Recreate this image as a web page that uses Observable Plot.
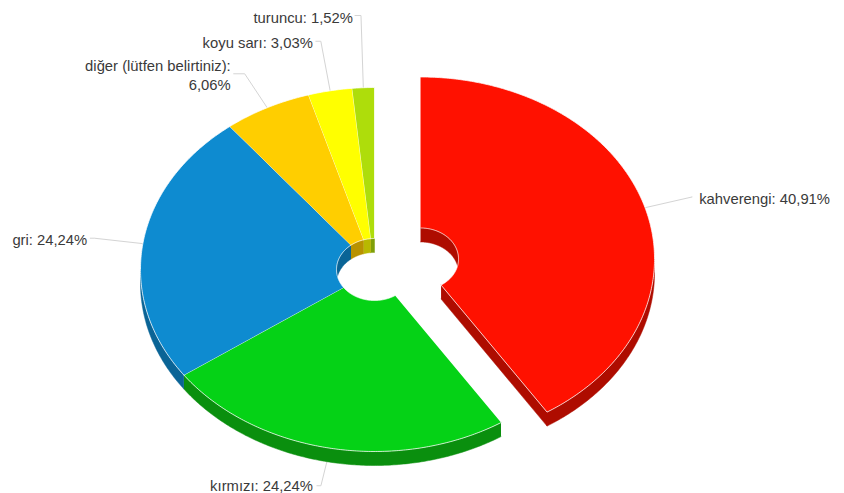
<!DOCTYPE html>
<html lang="tr">
<head>
<meta charset="utf-8">
<script src="https://cdn.jsdelivr.net/npm/d3@7"></script>
<script src="https://cdn.jsdelivr.net/npm/@observablehq/plot@0.6"></script>
<style>
html,body{margin:0;padding:0;background:#fff}
svg{display:block}
</style>
</head>
<body>
<div id="chart"></div>
<script>
// Data
const categories = ["kahverengi", "kırmızı", "gri", "diğer (lütfen belirtiniz)", "koyu sarı", "turuncu"];
const shares = [40.91, 24.24, 24.24, 6.06, 3.03, 1.52];
const topColors = ["#ff1100", "#05d216", "#0e8bd0", "#ffce00", "#ffff00", "#aedd0b"];
const wallColors = ["#ae0c00", "#0a8f0e", "#0a6496", "#b89200", "#b8b800", "#7f9f08"];
const exploded = [0.205, 0, 0, 0, 0, 0];

// Layout of the projected donut
const W = 844, H = 493;
const cx = 374, cy = 269, rx = 234, ry = 182, irx = 38, iry = 31, depth = 14;
const labelRadius = 1.21;
const labelLift = [0, 0, 0, 0, -12, -34];
const leaderRun = [0, 4, 4, 11, 5, 6];
const labelGap = [7, 4, 3, 3, 3, 2];
const labelDrop = [1, -1, 1, 1, 1, 1];

const total = d3.sum(shares);
const toAngle = (v) => (v / total) * 2 * Math.PI;
const ends = d3.cumsum(shares).map(toAngle);
const slices = categories.map((name, i) => {
  const a0 = i ? ends[i - 1] : 0, a1 = ends[i], mid = (a0 + a1) / 2;
  return {
    name, i, a0, a1, mid,
    ox: cx + exploded[i] * rx * Math.sin(mid),
    oy: cy - exploded[i] * ry * Math.cos(mid)
  };
});

const pt = (s, rX, rY, a, drop = 0) => ({
  x: s.ox + rX * Math.sin(a),
  y: s.oy - rY * Math.cos(a) + drop
});
function arc(s, rX, rY, a0, a1, drop = 0) {
  const n = Math.max(2, Math.ceil(Math.abs(a1 - a0) / 0.01));
  return d3.range(n + 1).map((k) => pt(s, rX, rY, a0 + ((a1 - a0) * k) / n, drop));
}
function tag(points, key, color) {
  return points.map((p) => ({ ...p, key, color }));
}
function clip(a0, a1, lo, hi) {
  const b0 = Math.max(a0, lo), b1 = Math.min(a1, hi);
  return b1 > b0 ? [b0, b1] : null;
}

const PI = Math.PI;
const walls = [], tops = [], leaders = [], labels = [];
slices.forEach((s) => {
  const wall = wallColors[s.i];
  // outer wall: near half of the ellipse
  const o = clip(s.a0, s.a1, PI / 2, 3 * PI / 2);
  if (o) walls.push(...tag([...arc(s, rx, ry, o[0], o[1]), ...arc(s, rx, ry, o[1], o[0], depth)], `o${s.i}`, wall));
  // inner wall: far half of the hole
  for (const [lo, hi] of [[0, PI / 2], [3 * PI / 2, 2 * PI]]) {
    const c = clip(s.a0, s.a1, lo, hi);
    if (c) walls.push(...tag([...arc(s, irx, iry, c[0], c[1]), ...arc(s, irx, iry, c[1], c[0], depth)], `i${s.i}${lo}`, wall));
  }
  // cut face of the pulled-out slice
  if (exploded[s.i] > 0) {
    walls.push(...tag([
      pt(s, irx, iry, s.a1), pt(s, rx, ry, s.a1),
      pt(s, rx, ry, s.a1, depth), pt(s, irx, iry, s.a1, depth)
    ], `c${s.i}`, wall));
  }
  // top face
  tops.push(...tag([...arc(s, rx, ry, s.a0, s.a1), ...arc(s, irx, iry, s.a1, s.a0)], `t${s.i}`, topColors[s.i]));

  // leader + label
  const start = pt(s, rx, ry, s.mid);
  const elbow = pt(s, rx * labelRadius, ry * labelRadius, s.mid, labelLift[s.i]);
  const side = Math.sin(s.mid) >= 0 ? 1 : -1;
  const tail = { x: elbow.x + side * leaderRun[s.i], y: elbow.y };
  leaders.push(...tag([start, elbow, tail], `l${s.i}`, "#d4d4d4"));
  const pct = shares[s.i].toFixed(2).replace(".", ",") + "%";
  const text = s.name.length > 20 ? `${s.name}:\n${pct}` : `${s.name}: ${pct}`;
  labels.push({ x: tail.x + side * labelGap[s.i], y: tail.y + labelDrop[s.i], text, anchor: side > 0 ? "start" : "end" });
});

const chart = Plot.plot({
  width: W, height: H,
  margin: 0,
  style: { background: "#fff", fontFamily: "'Liberation Sans', Arial, sans-serif" },
  x: { domain: [0, W], range: [0, W], axis: null },
  y: { domain: [0, H], range: [0, H], axis: null },
  marks: [
    Plot.line(leaders, { x: "x", y: "y", z: "key", stroke: "color", strokeWidth: 1, curve: "linear" }),
    Plot.line(walls, { x: "x", y: "y", z: "key", fill: "color", stroke: "color", strokeWidth: 0.5, curve: "linear" }),
    Plot.line(tops, { x: "x", y: "y", z: "key", fill: "color", stroke: "#fff", strokeOpacity: 0.75, strokeWidth: 1, strokeLinejoin: "round", curve: "linear" }),
    Plot.text(labels.filter((d) => d.anchor === "start"), { x: "x", y: "y", text: "text", textAnchor: "start", fontSize: 14.8, fill: "#3a3a3a", lineHeight: 1.27 }),
    Plot.text(labels.filter((d) => d.anchor === "end"), { x: "x", y: "y", text: "text", textAnchor: "end", fontSize: 14.8, fill: "#3a3a3a", lineHeight: 1.27 })
  ]
});
document.getElementById("chart").append(chart);
</script>
</body>
</html>
